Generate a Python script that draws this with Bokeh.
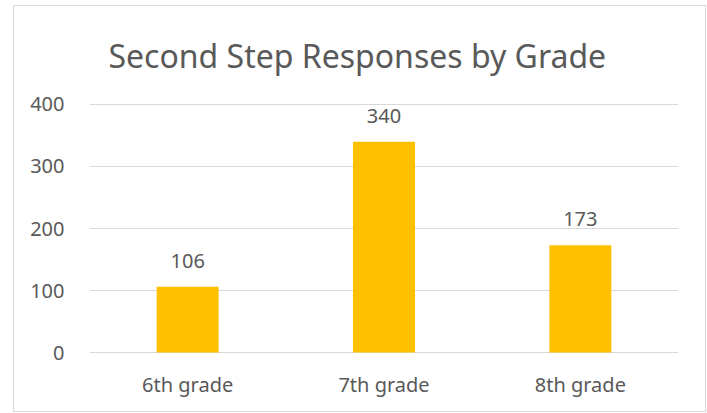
from bokeh.plotting import figure
from bokeh.models import ColumnDataSource, FactorRange, Range1d, FixedTicker, LabelSet
from bokeh.core.properties import value
from bokeh.embed import file_html
from bokeh.resources import INLINE

grades = ["6th grade", "7th grade", "8th grade"]
counts = [106, 340, 173]
y_ticks = [0, 100, 200, 300, 400]
title_text = "Second Step Responses by Grade"

FONT = "Noto Sans"
TXT = "#595959"

source = ColumnDataSource(data=dict(grade=grades, count=counts, label=[str(c) for c in counts]))

p = figure(
    width=693, height=407,
    x_range=FactorRange(factors=grades),
    y_range=Range1d(-1.6, 401.6),
    output_backend="svg", toolbar_location=None,
    min_border_left=75, min_border_right=29, min_border_top=97, min_border_bottom=60,
)
p.styles = {"border": "1px solid #d9d9d9", "box-sizing": "border-box",
            "margin-left": "13px", "margin-top": "5px"}
p.outline_line_color = None
p.background_fill_color = "white"
p.border_fill_color = "white"

p.title.text = title_text
p.title.align = "left"
p.title.vertical_align = "top"
p.title.offset = 19
p.title.standoff = 50
p.title.text_font = FONT
p.title.text_font_size = "32px"
p.title.text_font_style = "normal"
p.title.text_color = TXT

p.vbar(x="grade", top="count", width=0.316, source=source, fill_color="#FFC000", line_color=None)

p.xgrid.grid_line_color = None
p.ygrid.grid_line_color = "#d9d9d9"
p.ygrid.grid_line_width = 1
p.yaxis.ticker = FixedTicker(ticks=y_ticks)

for ax in (p.xaxis[0], p.yaxis[0]):
    ax.axis_line_color = None
    ax.major_tick_line_color = None
    ax.minor_tick_line_color = None
    ax.major_label_text_font = FONT
    ax.major_label_text_color = TXT
    ax.major_label_text_font_size = "20px"
p.yaxis.major_label_standoff = 19
p.xaxis.major_label_standoff = 11

labels = LabelSet(x="grade", y="count", text="label", source=source,
                  text_align="center", text_baseline="alphabetic", y_offset=19,
                  text_font=value(FONT), text_font_size=value("20px"), text_color=TXT)
p.add_layout(labels)

open("out.html", "w").write(file_html(p, INLINE))
